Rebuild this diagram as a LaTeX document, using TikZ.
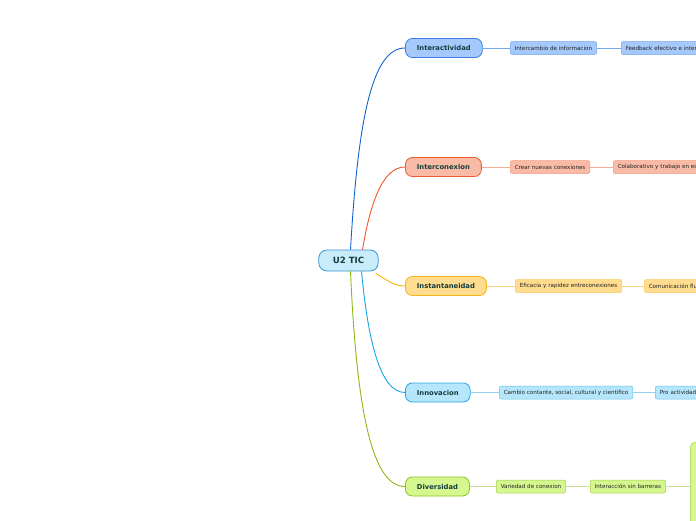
\documentclass[tikz,border=0pt]{standalone}
\usepackage{fontspec}
\setmainfont{DejaVu Sans}
\usepackage{tikz}

\definecolor{ticfill}{HTML}{C8ECFB}
\definecolor{ticdraw}{HTML}{3A94CF}
\definecolor{iafill}{HTML}{A6C9FB}
\definecolor{iadraw}{HTML}{3A7FE2}
\definecolor{ialine}{HTML}{1462CC}
\definecolor{icfill}{HTML}{F9BBA6}
\definecolor{icdraw}{HTML}{EA5C30}
\definecolor{icline}{HTML}{F0552A}
\definecolor{isfill}{HTML}{FFDC8E}
\definecolor{isdraw}{HTML}{F4B51C}
\definecolor{isline}{HTML}{F6B405}
\definecolor{infill}{HTML}{B6E6FB}
\definecolor{indraw}{HTML}{24A6E3}
\definecolor{inline}{HTML}{14A2E6}
\definecolor{dvfill}{HTML}{D6F78F}
\definecolor{dvdraw}{HTML}{8EC21F}
\definecolor{dvline}{HTML}{8BB816}
\definecolor{headtext}{HTML}{143E3E}
\definecolor{subtext}{HTML}{222222}

\begin{document}
\begin{tikzpicture}[x=1pt,y=-1pt,
    root/.style={draw=ticdraw, fill=ticfill, line width=0.8pt, rounded corners=8pt,
        font=\bfseries\fontsize{8.6}{10}\selectfont, text=headtext,
        minimum height=21pt, inner xsep=14pt},
    topic/.style={line width=0.8pt, rounded corners=7pt,
        font=\bfseries\fontsize{6.8}{8}\selectfont, text=headtext,
        minimum height=19pt, inner xsep=11.5pt, anchor=west},
    leaf/.style={line width=0.5pt, rounded corners=2pt,
        font=\fontsize{5.6}{6.5}\selectfont, text=subtext,
        minimum height=13pt, inner xsep=4.5pt, inner ysep=1pt, anchor=west},
    cutleaf/.style={leaf, text width=#1, align=left},
    branch/.style={line width=0.9pt},
    twig/.style={line width=0.6pt}]
    \useasboundingbox (0,0) rectangle (696,520);
    \clip (0,0) rectangle (696,520);

    \node[root] (tic) at (348.5,260.5) {U2 TIC};

    \node[topic, draw=iadraw, fill=iafill] (ia) at (405,48) {Interactividad};
    \node[topic, draw=icdraw, fill=icfill] (ic) at (405,167) {Interconexion};
    \node[topic, draw=isdraw, fill=isfill] (is) at (405,286) {Instantaneidad};
    \node[topic, draw=indraw, fill=infill] (in) at (405,392.5) {Innovacion};
    \node[topic, draw=dvdraw, fill=dvfill] (dv) at (405,486.5) {Diversidad};

    % second level
    \node[leaf, draw=iadraw!70, fill=iafill] (ia1) at (510,48) {Intercambio de informacion};
    \node[cutleaf=120pt, draw=iadraw!70, fill=iafill] (ia2) at (621,48) {Feedback efectivo e intera};
    \node[leaf, draw=icdraw!60, fill=icfill] (ic1) at (510,167) {Crear nuevas conexiones};
    \node[cutleaf=120pt, draw=icdraw!60, fill=icfill] (ic2) at (613,167) {Colaborativo y trabajo en eq};
    \node[leaf, draw=isdraw!70, fill=isfill] (is1) at (515,286) {Eficacia y rapidez entreconexiones};
    \node[cutleaf=100pt, draw=isdraw!70, fill=isfill] (is2) at (644,286) {Comunicación flu};
    \node[leaf, draw=indraw!70, fill=infill] (in1) at (499,392.5) {Cambio contante, social, cultural y cientifico};
    \node[cutleaf=80pt, draw=indraw!70, fill=infill] (in2) at (655,392.5) {Pro actividad};
    \node[leaf, draw=dvdraw!80, fill=dvfill] (dv1) at (496,486.5) {Variedad de conexion};
    \node[leaf, draw=dvdraw!80, fill=dvfill] (dv2) at (590,486.5) {Interacción sin barreras};
    \node[draw=dvdraw!80, fill=dvfill, line width=0.5pt, rounded corners=5pt,
        minimum width=60pt, minimum height=160pt, anchor=north west] (dv3) at (690,442) {};

    % branches
    \draw[branch, ialine] ([xshift=2]tic.north) .. controls (358,120) and (372,48) .. (ia.west);
    \draw[branch, icline] ([xshift=14]tic.north) .. controls (370,205) and (382,167) .. (ic.west);
    \draw[branch, isline] ([xshift=-3,yshift=-2]tic.south east) .. controls (390,282) and (395,286) .. (is.west);
    \draw[branch, inline] ([xshift=13]tic.south) .. controls (368,340) and (380,392.5) .. (in.west);
    \draw[branch, dvline] ([xshift=2]tic.south) .. controls (357,420) and (374,486.5) .. (dv.west);

    \draw[twig, iadraw!70] (ia) -- (ia1) -- (ia2);
    \draw[twig, icdraw!50] (ic) -- (ic1) -- (ic2);
    \draw[twig, isdraw!60] (is) -- (is1) -- (is2);
    \draw[twig, indraw!50] (in) -- (in1) -- (in2);
    \draw[twig, dvdraw!50] (dv) -- (dv1) -- (dv2) -- (dv2 -| dv3.west);
\end{tikzpicture}
\end{document}
